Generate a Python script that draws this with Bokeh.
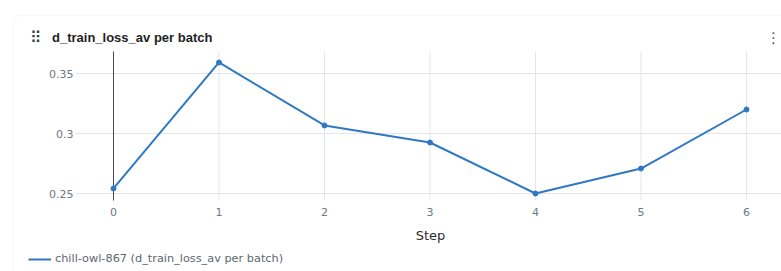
from bokeh.plotting import figure
from bokeh.models import ColumnDataSource, Legend, LegendItem, BoxAnnotation
from bokeh.core.properties import value
from bokeh.embed import file_html
from bokeh.resources import INLINE

steps = [0, 1, 2, 3, 4, 5, 6]
loss = [0.2542, 0.3592, 0.3067, 0.2925, 0.2500, 0.2708, 0.3200]
x_ticks = [0, 1, 2, 3, 4, 5, 6]
x_tick_labels = ["0", "1", "2", "3", "4", "5", "6"]
y_ticks = [0.25, 0.3, 0.35]
y_tick_labels = ["0.25", "0.3", "0.35"]
title_text = "d_train_loss_av per batch"
series_name = "chill-owl-867 (d_train_loss_av per batch)"
x_label = "Step"

W, H = 781, 271
BLUE = "#2f78c4"
GRID = "#e3e6eb"
TICK = "#6e7781"
AXFONT = "DejaVu Sans"

# pixel layout of the plotting area (figure pixels)
X_ORIGIN, PX_PER_X = 113.0, 105.5      # pixel of step 0, pixels per step
Y_ORIGIN, PX_PER_Y = 193.0, 1200.0     # pixel of 0.25, pixels per unit
PLOT_L, PLOT_T, PLOT_B = 75, 51, 200


def dx(px):
    return (px - X_ORIGIN) / PX_PER_X


def dy(py):
    return y_ticks[0] + (Y_ORIGIN - py) / PX_PER_Y


p = figure(width=W, height=H, output_backend="svg", toolbar_location=None,
           x_range=(dx(0), dx(W)), y_range=(dy(H), dy(0)),
           x_axis_type=None, y_axis_type=None,
           min_border=0, min_border_left=0, min_border_right=0,
           min_border_top=0, min_border_bottom=0)
p.outline_line_color = None
p.background_fill_color = "white"
p.border_fill_color = "white"
p.grid.visible = False

# card border
p.add_layout(BoxAnnotation(left=13, right=W + 100, top=H - 15, bottom=-100,
                           left_units="screen", right_units="screen",
                           top_units="screen", bottom_units="screen",
                           fill_alpha=0, line_color="#e2e5e9", line_width=1,
                           border_radius=6))

# grid lines
p.segment(x0=x_ticks, x1=x_ticks, y0=[dy(PLOT_B)] * len(x_ticks),
          y1=[dy(PLOT_T)] * len(x_ticks), line_color=GRID, line_width=1)
p.segment(x0=[dx(PLOT_L)] * len(y_ticks), x1=[dx(W)] * len(y_ticks),
          y0=y_ticks, y1=y_ticks, line_color=GRID, line_width=1)
# zero line
p.segment(x0=[x_ticks[0]], x1=[x_ticks[0]], y0=[dy(PLOT_B)], y1=[dy(PLOT_T)],
          line_color="#4a4a4a", line_width=1)

# tick labels
p.text(x=[dx(PLOT_L - 2)] * len(y_ticks), y=y_ticks, text=y_tick_labels,
       text_font=value(AXFONT), text_font_size="11px", text_color=TICK,
       text_align="right", text_baseline="middle")
p.text(x=x_ticks, y=[dy(211)] * len(x_ticks), text=x_tick_labels,
       text_font=value(AXFONT), text_font_size="11px", text_color=TICK,
       text_align="center", text_baseline="middle")
p.text(x=[dx(430)], y=[dy(235)], text=[x_label],
       text_font=value(AXFONT), text_font_size="13px", text_color="#2b2b2b",
       text_align="center", text_baseline="middle")

# header
p.text(x=[dx(51.5)], y=[dy(37)], text=[title_text],
       text_font=value("Liberation Sans"), text_font_size="13px",
       text_font_style="bold", text_color="#1f1f1f",
       text_align="left", text_baseline="middle")
p.text(x=[dx(35)], y=[dy(37)], text=["\u283f"],
       text_font=value("DejaVu Sans"), text_font_size="16px", text_color="#3a3f45",
       text_align="center", text_baseline="middle")
p.text(x=[dx(773)], y=[dy(37)], text=["\u22ee"],
       text_font=value("DejaVu Sans"), text_font_size="15px", text_color="#555b63",
       text_align="center", text_baseline="middle")

# data
src = ColumnDataSource(dict(x=steps, y=loss))
ln = p.line("x", "y", source=src, line_color=BLUE, line_width=2)
p.scatter("x", "y", source=src, size=5, color=BLUE)

legend = Legend(items=[LegendItem(label=series_name, renderers=[ln])],
                location=(28, H - 265), orientation="horizontal",
                glyph_width=23, glyph_height=12, label_standoff=4,
                label_text_font=AXFONT, label_text_font_size="11.3px",
                label_text_color="#5f6670", padding=0, margin=0, spacing=0,
                border_line_alpha=0, background_fill_alpha=0)
p.add_layout(legend)

open("out.html", "w").write(file_html(p, INLINE))
